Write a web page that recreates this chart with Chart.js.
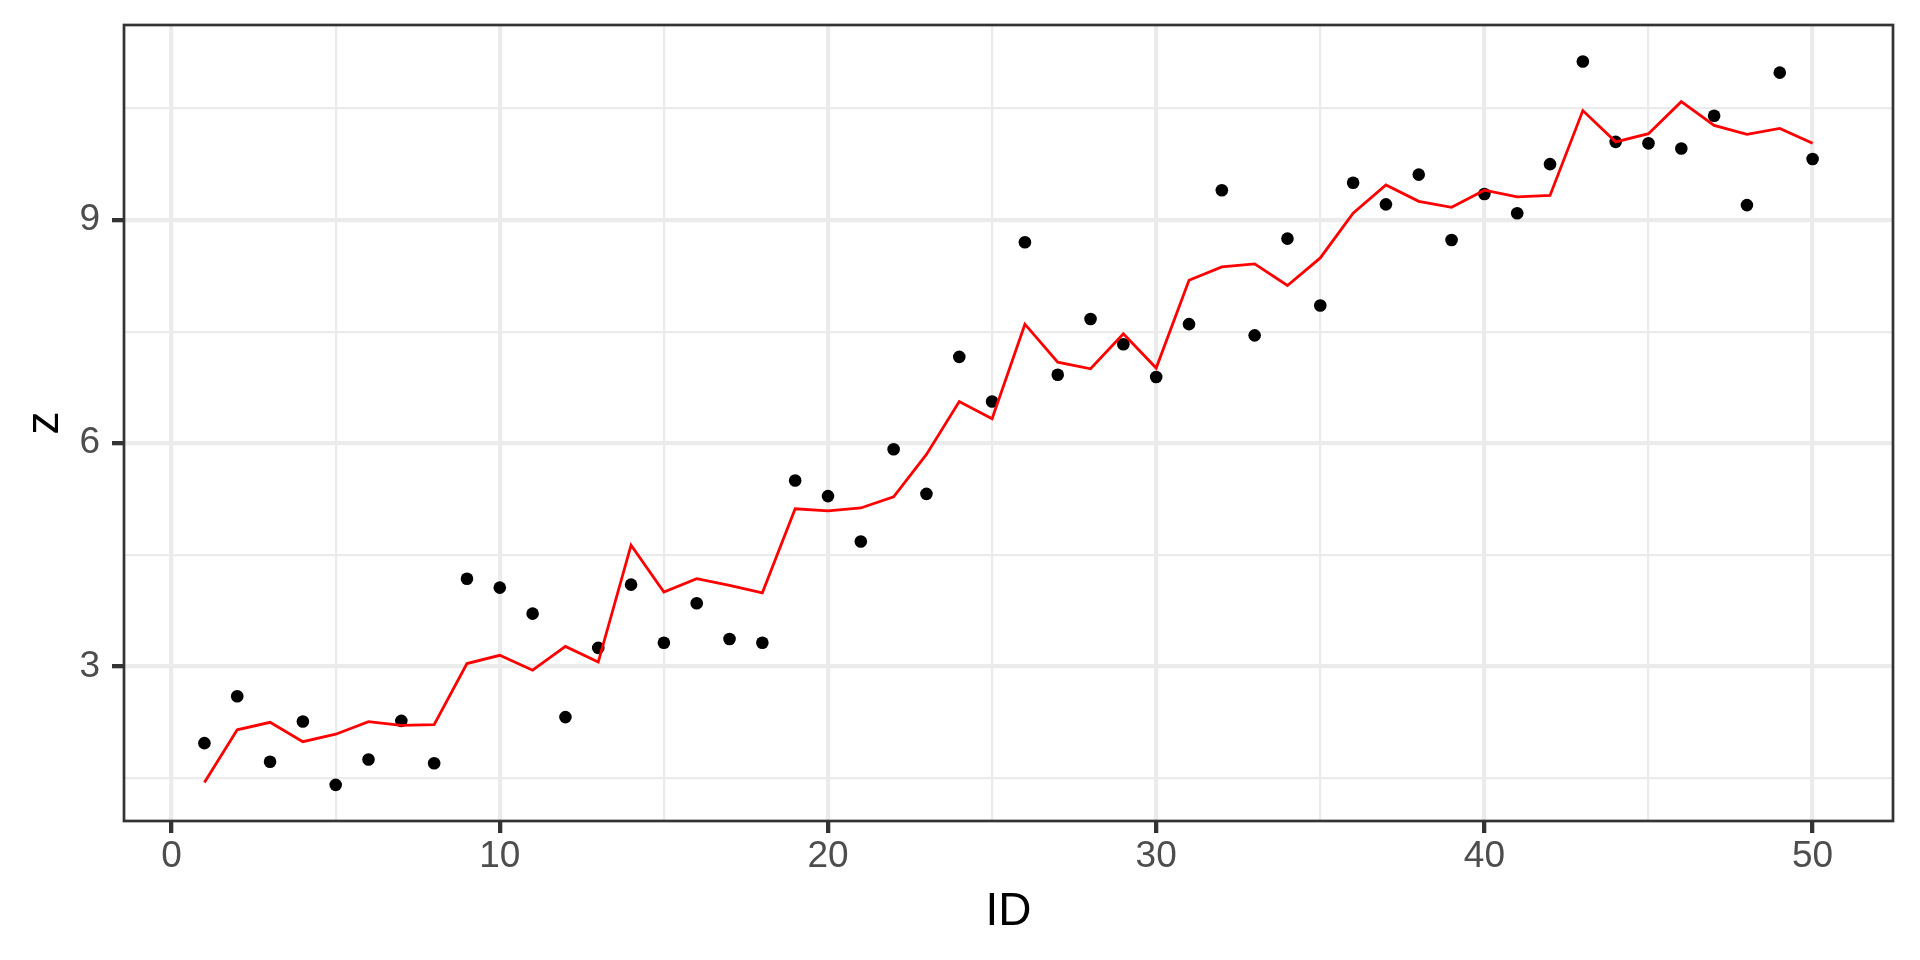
<!DOCTYPE html>
<html>
<head>
<meta charset="utf-8">
<title>z vs ID</title>
<script src="https://cdn.jsdelivr.net/npm/chart.js@4.4.1/dist/chart.umd.min.js"></script>
<style>
  html, body { margin:0; padding:0; background:#fff; }
  #wrap { width:1920px; height:960px; }
</style>
</head>
<body>
<div id="wrap"><canvas id="plot" width="1920" height="960"></canvas></div>
<script>
// Dados
const ids = [1,2,3,4,5,6,7,8,9,10,11,12,13,14,15,16,17,18,19,20,21,22,23,24,25,
             26,27,28,29,30,31,32,33,34,35,36,37,38,39,40,41,42,43,44,45,46,47,48,49,50];
const zPontos = [1.97,2.60,1.72,2.26,1.41,1.75,2.27,1.70,4.18,4.06,
                 3.71,2.32,3.25,4.10,3.32,3.85,3.37,3.32,5.50,5.29,
                 4.68,5.92,5.32,7.16,6.56,8.70,6.92,7.67,7.33,6.89,
                 7.60,9.40,7.45,8.75,7.85,9.50,9.21,9.61,8.73,9.35,
                 9.09,9.75,11.13,10.05,10.03,9.96,10.40,9.20,10.98,9.82];
const zLinha = [1.44,2.15,2.25,1.99,2.09,2.26,2.21,2.22,3.04,3.15,
                2.95,3.27,3.06,4.63,4.00,4.18,4.09,3.99,5.12,5.09,
                5.13,5.28,5.85,6.56,6.33,7.60,7.09,7.00,7.47,7.01,
                8.19,8.37,8.41,8.12,8.49,9.09,9.47,9.25,9.17,9.40,
                9.31,9.33,10.47,10.05,10.16,10.59,10.27,10.15,10.23,10.03];

// ticks (major com rótulo, minor só grade)
const xMajor = [0,10,20,30,40,50];
const xMinor = [5,15,25,35,45];
const yMajor = [3,6,9];
const yMinor = [1.5,4.5,7.5,10.5];

const FONT = '"Liberation Sans", Arial, Helvetica, sans-serif';
const GRID = '#EBEBEB';
const INK = '#333333';

const pontos = ids.map((id, i) => ({ x:id, y:zPontos[i] }));
const linha = ids.map((id, i) => ({ x:id, y:zLinha[i] }));

const isMajor = (list, v) => list.some(m => Math.abs(m - v) < 1e-9);

function tickList(major, minor){
  return major.concat(minor).sort((a,b)=>a-b).map(v => ({ value:v }));
}

// moldura do painel (theme_bw)
const moldura = {
  id: 'moldura',
  afterDatasetsDraw(chart){
    const { ctx, chartArea:a } = chart;
    ctx.save();
    ctx.strokeStyle = INK;
    ctx.lineWidth = 2.7;
    ctx.strokeRect(a.left, a.top, a.right - a.left, a.bottom - a.top);
    ctx.restore();
  }
};

new Chart(document.getElementById('plot').getContext('2d'), {
  type: 'scatter',
  data: {
    datasets: [
      {
        type: 'line',
        label: 'ajuste',
        data: linha,
        borderColor: '#FF0000',
        borderWidth: 2.8,
        pointRadius: 0,
        tension: 0,
        fill: false
      },
      {
        label: 'z',
        data: pontos,
        backgroundColor: '#000000',
        borderWidth: 0,
        pointRadius: 6.3,
        pointHoverRadius: 6.3
      }
    ]
  },
  plugins: [moldura],
  options: {
    responsive: false,
    animation: false,
    layout: { padding: { top:25, right:27, left:0, bottom:0 } },
    plugins: { legend: { display:false }, tooltip: { enabled:false } },
    scales: {
      x: {
        type: 'linear',
        min: -1.45,
        max: 52.45,
        afterBuildTicks: s => { s.ticks = tickList(xMajor, xMinor); },
        afterFit: s => { s.height = 139; s.paddingLeft = 0; s.paddingRight = 0; },
        border: { display:false },
        grid: {
          color: GRID,
          lineWidth: c => isMajor(xMajor, c.tick.value) ? 4.3 : 2.2,
          tickColor: c => isMajor(xMajor, c.tick.value) ? INK : 'rgba(0,0,0,0)',
          tickWidth: 4.3,
          tickLength: 12
        },
        ticks: {
          autoSkip: false,
          maxRotation: 0,
          padding: 2,
          color: '#4D4D4D',
          font: { family: FONT, size: 37 },
          callback: v => isMajor(xMajor, v) ? String(v) : ''
        },
        title: {
          display: true,
          text: 'ID',
          color: '#000000',
          font: { family: FONT, size: 46 },
          padding: { top:0, bottom:20 }
        }
      },
      y: {
        type: 'linear',
        min: 0.924,
        max: 11.62,
        afterBuildTicks: s => { s.ticks = tickList(yMajor, yMinor); },
        afterFit: s => { s.width = 124; s.paddingTop = 0; s.paddingBottom = 0; },
        border: { display:false },
        grid: {
          color: GRID,
          lineWidth: c => isMajor(yMajor, c.tick.value) ? 4.3 : 2.2,
          tickColor: c => isMajor(yMajor, c.tick.value) ? INK : 'rgba(0,0,0,0)',
          tickWidth: 4.3,
          tickLength: 12
        },
        ticks: {
          autoSkip: false,
          padding: 12,
          color: '#4D4D4D',
          font: { family: FONT, size: 37 },
          callback: v => isMajor(yMajor, v) ? String(v) : ''
        },
        title: {
          display: true,
          text: 'z',
          color: '#000000',
          font: { family: FONT, size: 46 },
          padding: { top:18, bottom:0 }
        }
      }
    }
  }
});
</script>
</body>
</html>
